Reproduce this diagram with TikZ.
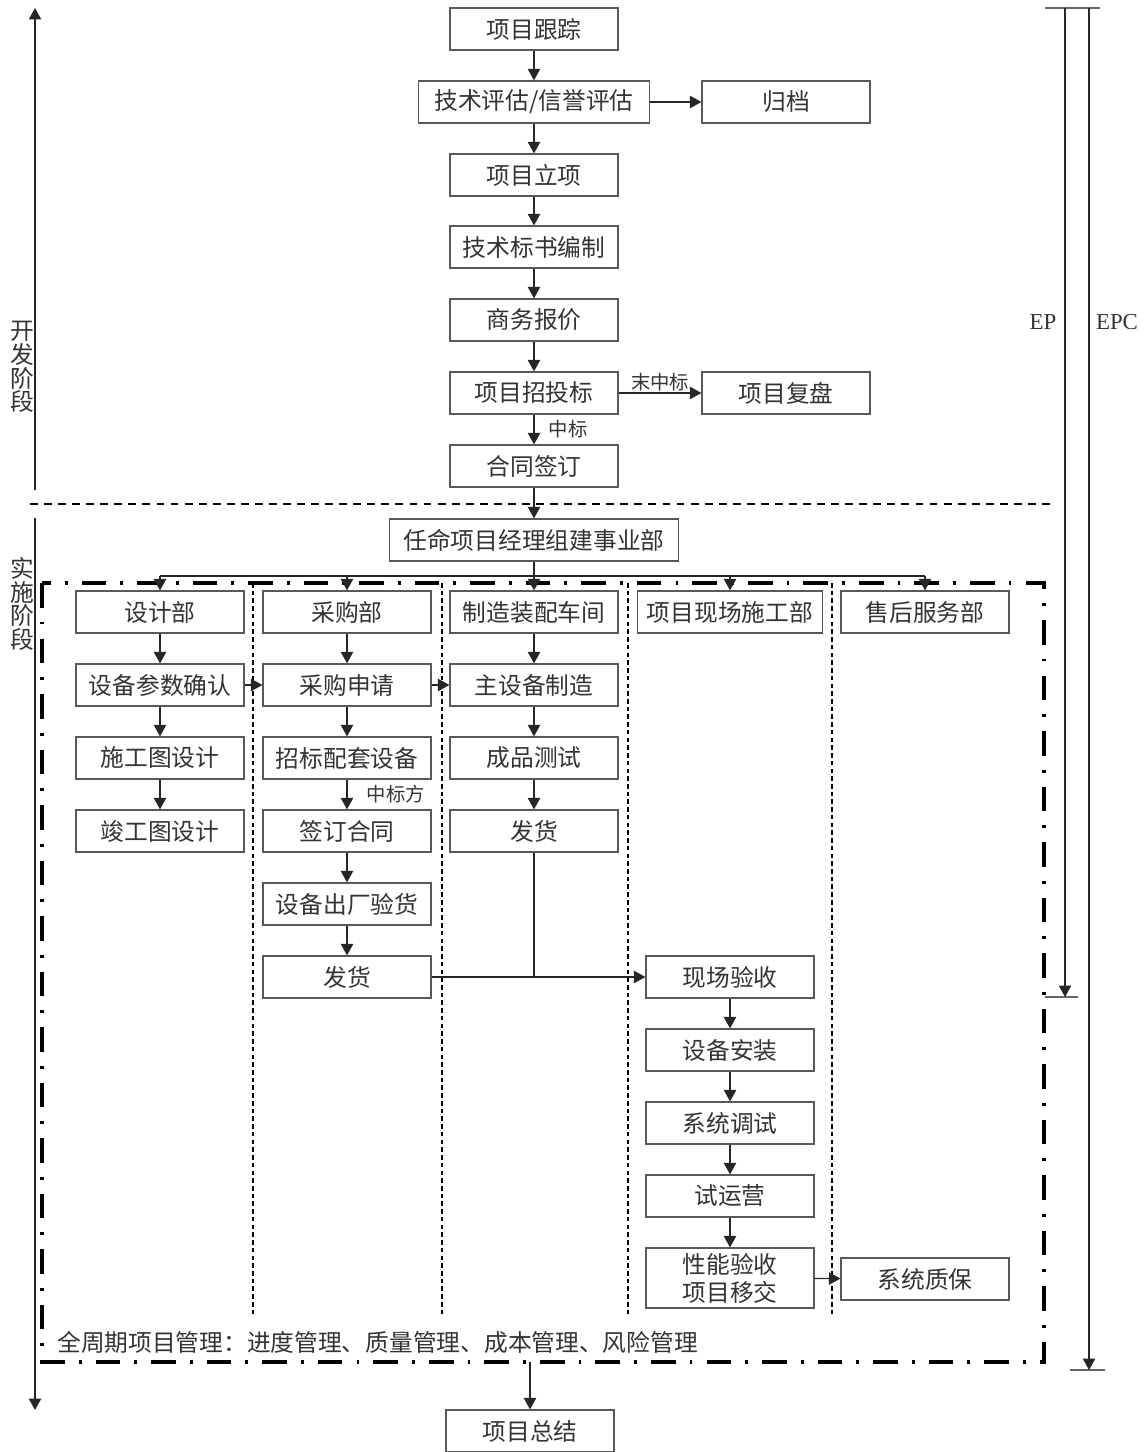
\documentclass[tikz,border=0pt]{standalone}
\usepackage{fontspec}
\setmainfont{Liberation Serif}
\newfontfamily\cjk{Noto Sans CJK SC}
\usepackage{tikz}
\usetikzlibrary{positioning,arrows.meta}

\tikzset{
  box/.style={draw=black!65, line width=0.7pt, fill=white, text=black!80, font=\cjk\fontsize{13.5}{16}\selectfont,
    minimum width=3.36cm, minimum height=0.84cm, inner sep=1pt, align=center},
  arr/.style={-{Triangle[length=6.5pt,width=7pt]}, line width=0.7pt, draw=black!85},
  link/.style={line width=0.7pt, draw=black!85},
  lbl/.style={font=\cjk\fontsize{11}{13}\selectfont, text=black!80, inner sep=1pt},
  stage/.style={font=\cjk\fontsize{13.5}{13.5}\selectfont, text=black!80, align=center, inner sep=0pt},
  lane/.style={line width=0.8pt, dash pattern=on 2.6pt off 1.8pt},
  frame/.style={line width=1.8pt, dash pattern=on 14pt off 8pt on 1.6pt off 8pt},
}

\begin{document}
\begin{tikzpicture}[x=0.02cm,y=-0.02cm]
    \useasboundingbox (0,0) rectangle (1146,1452);

    % development stage
    \node[box] (track) at (534,29) {项目跟踪};
    \node[box, minimum width=4.62cm] (eval) at (534,102) {技术评估/信誉评估};
    \node[box] (archive) at (786,102) {归档};
    \node[box] (approve) at (534,175) {项目立项};
    \node[box] (tender) at (534,247) {技术标书编制};
    \node[box] (quote) at (534,320) {商务报价};
    \node[box] (bid) at (534,393) {项目招投标};
    \node[box] (review) at (786,393) {项目复盘};
    \node[box] (contract) at (534,466) {合同签订};

    \draw[arr] (track) -- (eval);
    \draw[arr] (eval) -- (archive);
    \draw[arr] (eval) -- (approve);
    \draw[arr] (approve) -- (tender);
    \draw[arr] (tender) -- (quote);
    \draw[arr] (quote) -- (bid);
    \draw[arr] (bid) -- node[lbl, above] {末中标} (review);
    \draw[arr] (bid) -- node[lbl, right=7pt] {中标} (contract);

    \draw[line width=0.9pt, dash pattern=on 4.5pt off 3.5pt] (30,504) -- (1055,504);

    % implementation stage
    \node[box, minimum width=5.78cm] (pm) at (534,540) {任命项目经理组建事业部};
    \draw[arr] (contract) -- (pm);

    \draw[frame] (42,583) rectangle (1044,1362);
    \foreach \x in {253,442,628,832}
        \draw[lane] (\x,583) -- (\x,1316);

    \node[box] (design) at (160,612) {设计部};
    \node[box] (purchase) at (347,612) {采购部};
    \node[box] (factory) at (534,612) {制造装配车间};
    \node[box, minimum width=3.7cm] (site) at (730,612) {项目现场施工部};
    \node[box] (service) at (925,612) {售后服务部};

    \coordinate (busL) at (160,576);
    \coordinate (busR) at (925,576);
    \draw[link] (busL) -- (busR);
    \draw[arr] (pm) -- (factory);
    \foreach \d in {design,purchase,site,service}
        \draw[arr] (\d.north |- busL) -- (\d.north);

    % design
    \node[box] (param) at (160,685) {设备参数确认};
    \node[box] (cdraw) at (160,758) {施工图设计};
    \node[box] (asbuilt) at (160,831) {竣工图设计};
    \draw[arr] (design) -- (param);
    \draw[arr] (param) -- (cdraw);
    \draw[arr] (cdraw) -- (asbuilt);

    % purchase
    \node[box] (preq) at (347,685) {采购申请};
    \node[box] (pbid) at (347,758) {招标配套设备};
    \node[box] (psign) at (347,831) {签订合同};
    \node[box] (inspect) at (347,904) {设备出厂验货};
    \node[box] (pship) at (347,977) {发货};
    \draw[arr] (purchase) -- (preq);
    \draw[arr] (preq) -- (pbid);
    \draw[arr] (pbid) -- node[lbl, right=10pt] {中标方} (psign);
    \draw[arr] (psign) -- (inspect);
    \draw[arr] (inspect) -- (pship);
    \draw[arr] (param) -- (preq);

    % factory
    \node[box] (mfg) at (534,685) {主设备制造};
    \node[box] (test) at (534,758) {成品测试};
    \node[box] (ship) at (534,831) {发货};
    \draw[arr] (factory) -- (mfg);
    \draw[arr] (mfg) -- (test);
    \draw[arr] (test) -- (ship);
    \draw[arr] (preq) -- (mfg);

    % site
    \node[box] (accept) at (730,977) {现场验收};
    \node[box] (install) at (730,1050) {设备安装};
    \node[box] (debug) at (730,1123) {系统调试};
    \node[box] (trial) at (730,1196) {试运营};
    \node[box, minimum height=1.2cm, text width=3cm] (handover) at (730,1278) {性能验收\\项目移交};
    \node[box] (warranty) at (925,1279) {系统质保};
    \draw[link] (ship) -- (ship.south |- pship.east);
    \draw[arr] (pship) -- (accept);
    \draw[arr] (accept) -- (install);
    \draw[arr] (install) -- (debug);
    \draw[arr] (debug) -- (trial);
    \draw[arr] (trial) -- (handover);
    \draw[arr] (handover) -- (warranty);

    \node[font=\cjk\fontsize{13.5}{16}\selectfont, text=black!80, anchor=west, inner sep=0pt] (cycle) at (57,1342)
        {全周期项目管理：进度管理、质量管理、成本管理、风险管理};

    \coordinate (fbot) at (530,1362);
    \node[box] (summary) at (530,1431) {项目总结};
    \draw[arr] (fbot) -- (summary);

    % stage arrows on the left
    \coordinate (devbot) at (35,490);
    \coordinate (devtop) at (35,8);
    \coordinate (imptop) at (35,518);
    \coordinate (impbot) at (35,1410);
    \draw[arr] (devbot) -- (devtop);
    \draw[arr] (imptop) -- (impbot);
    \node[stage, fill=white] (devlbl) at (22,367) {开\\发\\阶\\段};
    \node[stage, fill=white] (implbl) at (22,604) {实\\施\\阶\\段};

    % EP / EPC scope on the right
    \coordinate (eptop) at (1065,8);
    \coordinate (epbot) at (1065,997);
    \coordinate (epctop) at (1089,8);
    \coordinate (epcbot) at (1089,1370);
    \draw[link, black!60] (1045,8) -- (1100,8);
    \draw[link, black!60] (1045,997) -- (1078,997);
    \draw[link, black!60] (1070,1370) -- (1105,1370);
    \draw[arr] (eptop) -- (epbot);
    \draw[arr] (epctop) -- (epcbot);
    \node[font=\fontsize{13}{15}\selectfont, text=black!80] (ep) at (1043,322) {EP};
    \node[font=\fontsize{13}{15}\selectfont, text=black!80] (epc) at (1117,322) {EPC};
\end{tikzpicture}
\end{document}
